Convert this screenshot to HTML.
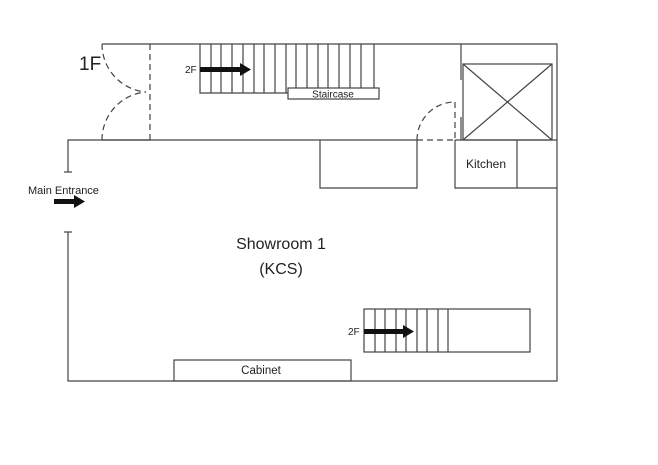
<!DOCTYPE html>
<html><head><style>
body{margin:0;background:#fff;}
svg{display:block;}
text{font-family:"Liberation Sans",sans-serif;fill:#222;}
</style></head><body>
<svg width="658" height="465" viewBox="0 0 658 465" xmlns="http://www.w3.org/2000/svg">
<g stroke="#444" stroke-width="1.2" fill="none">
<!-- outer walls -->
<polyline points="102,44 557,44 557,381 68,381 68,232"/>
<line x1="64" y1="232" x2="72" y2="232"/>
<polyline points="68,172 68,140 417,140"/>
<line x1="64" y1="172" x2="72" y2="172"/>
<line x1="455" y1="140" x2="557" y2="140"/>
<line x1="102" y1="140" x2="150" y2="140"/>
<!-- left door -->
<line x1="150" y1="44" x2="150" y2="140" stroke-dasharray="6,4"/>
<path d="M102,44 A48,48 0 0 0 146,92" stroke-dasharray="6,4"/>
<path d="M102,140 A48,48 0 0 1 146,92" stroke-dasharray="6,4"/>
<!-- top stairs -->
<polyline points="200,44 200,93 288,93"/>
<rect x="288" y="88" width="91" height="11" fill="#fff"/>
<g>
<line x1="211" y1="44" x2="211" y2="93"/><line x1="221" y1="44" x2="221" y2="93"/>
<line x1="232" y1="44" x2="232" y2="93"/><line x1="243" y1="44" x2="243" y2="93"/>
<line x1="254" y1="44" x2="254" y2="93"/><line x1="264" y1="44" x2="264" y2="93"/>
<line x1="275" y1="44" x2="275" y2="93"/><line x1="286" y1="44" x2="286" y2="93"/>
<line x1="296" y1="44" x2="296" y2="88"/><line x1="307" y1="44" x2="307" y2="88"/>
<line x1="318" y1="44" x2="318" y2="88"/><line x1="328" y1="44" x2="328" y2="88"/>
<line x1="339" y1="44" x2="339" y2="88"/><line x1="350" y1="44" x2="350" y2="88"/>
<line x1="361" y1="44" x2="361" y2="88"/><line x1="374" y1="44" x2="374" y2="88"/>
</g>
<!-- right area -->
<line x1="461" y1="44" x2="461" y2="80"/>
<line x1="461" y1="117" x2="461" y2="140"/>
<rect x="463" y="64" width="89" height="76"/>
<line x1="463" y1="64" x2="552" y2="140"/>
<line x1="552" y1="64" x2="463" y2="140"/>
<line x1="455" y1="102" x2="455" y2="140" stroke-dasharray="6,4"/>
<line x1="417" y1="140" x2="455" y2="140" stroke-dasharray="6,4"/>
<path d="M417,140 A38,38 0 0 1 455,102" stroke-dasharray="6,4"/>
<polyline points="455,140 455,188 557,188"/>
<line x1="517" y1="140" x2="517" y2="188"/>
<polyline points="320,140 320,188 417,188 417,140"/>
<!-- bottom stairs -->
<rect x="364" y="309" width="166" height="43"/>
<line x1="375" y1="309" x2="375" y2="352"/><line x1="385" y1="309" x2="385" y2="352"/>
<line x1="396" y1="309" x2="396" y2="352"/><line x1="406" y1="309" x2="406" y2="352"/>
<line x1="417" y1="309" x2="417" y2="352"/><line x1="427" y1="309" x2="427" y2="352"/>
<line x1="438" y1="309" x2="438" y2="352"/><line x1="448" y1="309" x2="448" y2="352"/>
<!-- cabinet -->
<rect x="174" y="360" width="177" height="21"/>
</g>
<!-- arrows -->
<g fill="#111">
<rect x="200" y="67" width="40" height="5"/><polygon points="240,63 251,69.5 240,76"/>
<rect x="364" y="329" width="39" height="5"/><polygon points="403,325 414,331.5 403,338"/>
<rect x="54" y="199" width="20" height="5"/><polygon points="74,195 85,201.5 74,208"/>
</g>
<text x="79" y="70" font-size="19">1F</text>
<text x="185" y="73" font-size="10">2F</text>
<text x="333" y="97.5" font-size="10" text-anchor="middle">Staircase</text>
<text x="486" y="168" font-size="12" text-anchor="middle">Kitchen</text>
<text x="28" y="194" font-size="11">Main Entrance</text>
<text x="281" y="249" font-size="16" text-anchor="middle">Showroom 1</text>
<text x="281" y="274" font-size="16" text-anchor="middle">(KCS)</text>
<text x="348" y="335" font-size="10">2F</text>
<text x="261" y="374" font-size="11.5" text-anchor="middle">Cabinet</text>
</svg>
</body></html>
